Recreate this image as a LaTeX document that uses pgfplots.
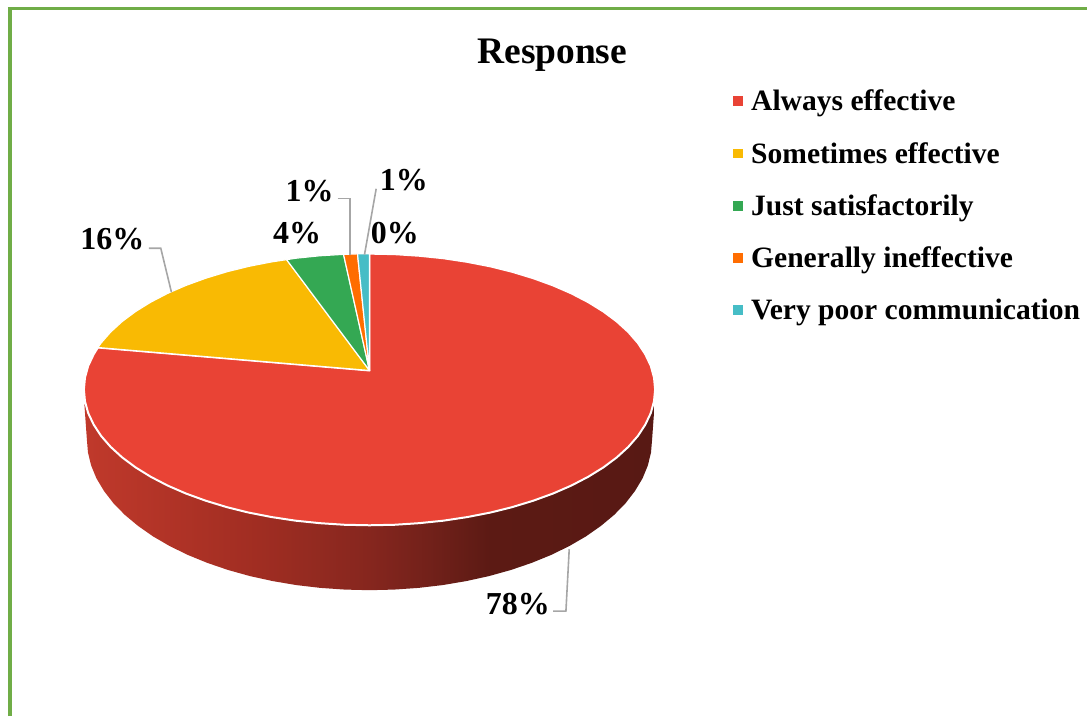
\documentclass[border=0pt]{standalone}
\usepackage{pgfplots}
\pgfplotsset{compat=1.18}
\usepackage{fontspec}
\setmainfont{Liberation Serif}
\definecolor{cRed}{HTML}{E94335}
\definecolor{cYel}{HTML}{F9BA03}
\definecolor{cGrn}{HTML}{34A853}
\definecolor{cOrg}{HTML}{FF6D01}
\definecolor{cCya}{HTML}{46BDC6}
\definecolor{cLead}{HTML}{A6A6A6}
\definecolor{cBord}{HTML}{70AD47}
\pgfdeclarehorizontalshading{pieside}{100bp}{
  rgb(0bp)=(0.753,0.224,0.169);
  rgb(25bp)=(0.753,0.224,0.169);
  rgb(40.4bp)=(0.627,0.176,0.133);
  rgb(44bp)=(0.588,0.169,0.129);
  rgb(50bp)=(0.525,0.149,0.118);
  rgb(55.2bp)=(0.447,0.129,0.102);
  rgb(60.5bp)=(0.361,0.102,0.078);
  rgb(75bp)=(0.345,0.098,0.078);
  rgb(100bp)=(0.345,0.098,0.078)}
\newcommand{\lab}{\fontsize{32}{34}\selectfont\bfseries}
\begin{document}
\begin{tikzpicture}
\begin{axis}[
  scale only axis, width=1088pt, height=717pt,
  xmin=0, xmax=1088, ymin=0, ymax=717, y dir=reverse,
  hide axis, clip=false,
  legend cell align=left,
  legend style={draw=none, fill=none, at={(axis cs:730.5,86)}, anchor=north west,
    font=\fontsize{29.6}{32}\selectfont\bfseries, row sep=26pt,
    /tikz/every odd column/.style={column sep=6.5pt}},
  legend image code/.code={\path[#1,draw=none] (0pt,-5pt) rectangle (10pt,5pt);},
]
% page extent
\addplot[draw=none, forget plot] coordinates {(0,0)(1088,717)};
% frame
\addplot[cBord, line width=4.3pt, forget plot] coordinates {(10.2,717)(10.2,7)};
\addplot[cBord, line width=3pt, forget plot] coordinates {(8,8.5)(1088,8.5)};
% side of the pie
\addplot[draw=none, shading=pieside, forget plot] coordinates {
 (84.5,405)(87,440)(88.1,453.2)(91.3,466.2)(96.6,479.1)(104.1,491.6)(113.5,503.8)(124.9,515.5)(138.2,526.6)(153.2,537.1)(169.9,546.8)(188.1,555.7)(207.7,563.7)(228.5,570.8)(250.4,576.9)(273.2,581.9)(296.8,585.9)(320.9,588.7)(345.3,590.4)(370,591)
 (394.7,590.4)(419.1,588.7)(443.2,585.9)(466.8,581.9)(489.6,576.9)(511.5,570.8)(532.3,563.7)(551.9,555.7)(570.1,546.8)(586.8,537.1)(601.8,526.6)(615.1,515.5)(626.5,503.8)(635.9,491.6)(643.4,479.1)(648.7,466.2)(651.9,453.2)(653,440)(655.5,405)
} -- cycle;
% top of the pie
\addplot[fill=cRed, draw=white, line width=2pt, line join=round] coordinates {
 (370,371)(370,254)(394.9,254.5)(419.6,256.1)(444,258.6)(467.8,262.2)(490.9,266.7)(513,272.2)(534,278.6)(553.8,285.8)(572.2,293.8)(589.1,302.6)(604.3,312)(617.7,322)(629.2,332.5)(638.8,343.5)(646.2,354.8)(651.7,366.4)(654.9,378.1)(656,390)
 (654.9,401.9)(651.7,413.6)(646.2,425.2)(638.8,436.5)(629.2,447.5)(617.7,458)(604.3,468)(589.1,477.4)(572.2,486.2)(553.8,494.2)(534,501.4)(513,507.8)(490.9,513.3)(467.8,517.8)(444,521.4)(419.6,523.9)(394.9,525.5)(370,526)
 (345.1,525.5)(320.4,523.9)(296,521.4)(272.2,517.8)(249.1,513.3)(227,507.8)(206,501.4)(186.2,494.2)(167.8,486.2)(150.9,477.4)(135.7,468)(122.3,458)(110.8,447.5)(101.2,436.5)(93.8,425.2)(88.3,413.6)(85.1,401.9)(84,390)
 (85.1,378.1)(88.3,366.4)(93.8,354.8)(98,348)
} -- cycle;
\addlegendentry{Always effective}
\addplot[fill=cYel, draw=white, line width=1.2pt, line join=round] coordinates {
 (370,371)(98,348)(101.2,343.5)(110.8,332.5)(122.3,322)(135.7,312)(150.9,302.6)(167.8,293.8)(186.2,285.8)(206,278.6)(227,272.2)(249.1,266.7)(272.2,262.2)(287,260)
} -- cycle;
\addlegendentry{Sometimes effective}
\addplot[fill=cGrn, draw=white, line width=1.2pt, line join=round] coordinates {
 (370,371)(287,260)(296,258.6)(320.4,256.1)(344,254.7)
} -- cycle;
\addlegendentry{Just satisfactorily}
\addplot[fill=cOrg, draw=white, line width=1.2pt, line join=round] coordinates {
 (370,371)(344,254.7)(358,254.2)
} -- cycle;
\addlegendentry{Generally ineffective}
\addplot[fill=cCya, draw=white, line width=1.2pt, line join=round] coordinates {
 (370,371)(358,254.2)(370,254)
} -- cycle;
\addlegendentry{Very poor communication}
% leader lines
\addplot[cLead, line width=1.6pt, forget plot] coordinates {(149,248.6)(161,248.6)(171.7,292.7)};
\addplot[cLead, line width=1.6pt, forget plot] coordinates {(338,198.7)(350.7,198.7)(350.7,255)};
\addplot[cLead, line width=1.6pt, forget plot] coordinates {(376.7,189)(365,255)};
\addplot[cLead, line width=1.6pt, forget plot] coordinates {(554,612)(566.7,612)(570,550)};
% labels
\node[anchor=base, font=\fontsize{37.5}{40}\selectfont\bfseries] at (axis cs:553,64) {Response};
\node[anchor=base, font=\lab] at (axis cs:112.5,250) {16\%};
\node[anchor=base, font=\lab] at (axis cs:297.5,244) {4\%};
\node[anchor=base, font=\lab] at (axis cs:310,202) {1\%};
\node[anchor=base, font=\lab] at (axis cs:404.5,191) {1\%};
\node[anchor=base, font=\lab] at (axis cs:395.5,244) {0\%};
\node[anchor=base, font=\lab] at (axis cs:518.5,615) {78\%};
\end{axis}
\end{tikzpicture}
\end{document}
